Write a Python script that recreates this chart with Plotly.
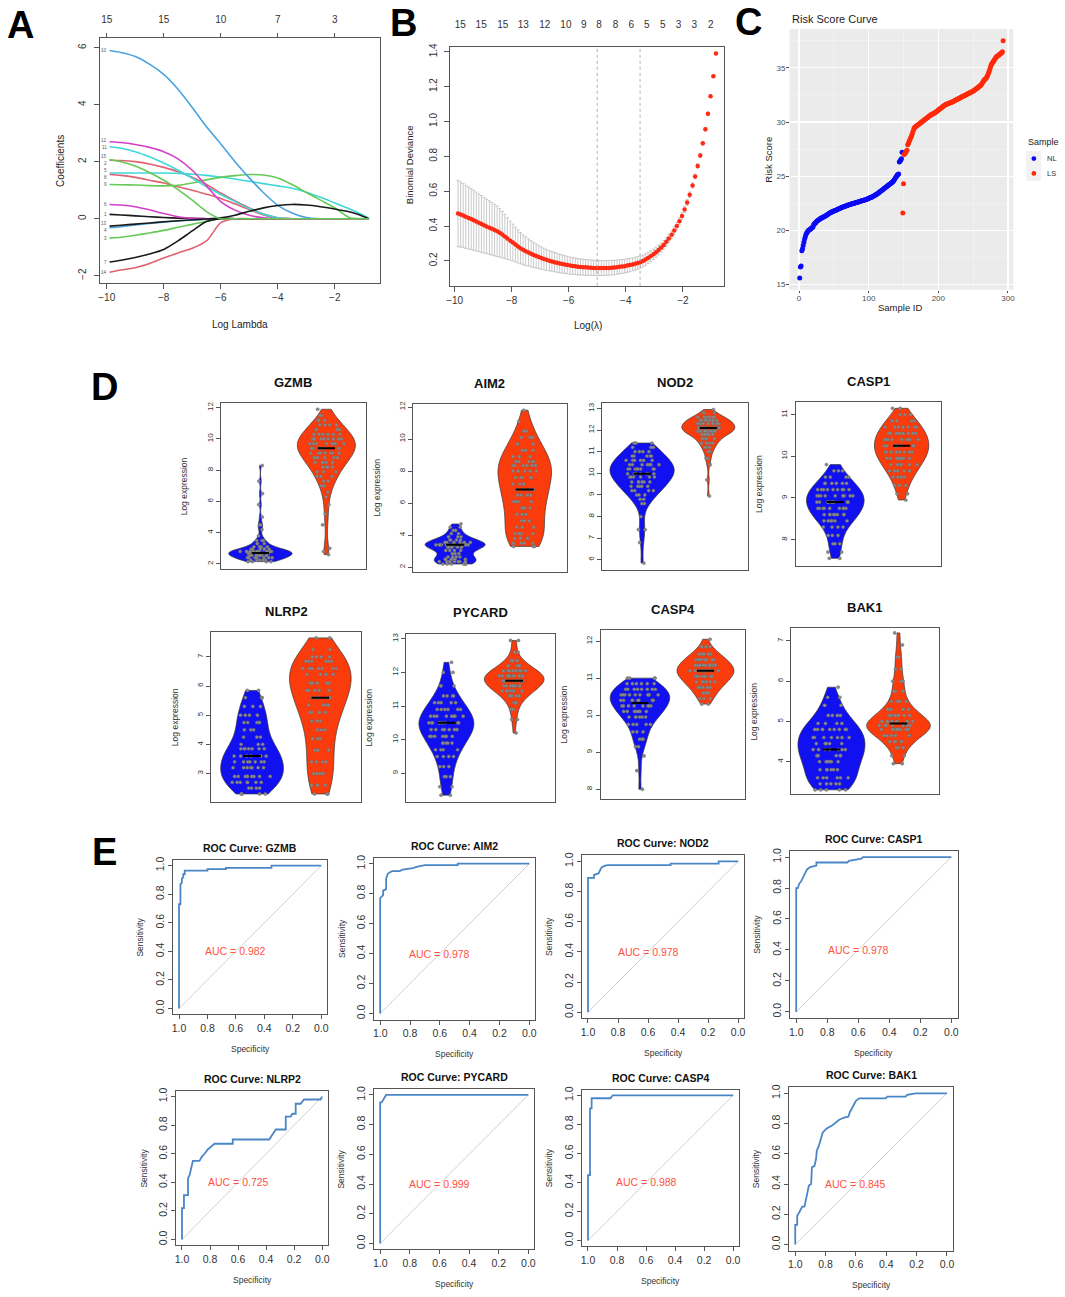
import numpy as np
import plotly.graph_objects as go

W, H = 1065, 1297
FONT = "Liberation Sans, Arial, Helvetica, sans-serif"

# ============================ DATA ============================
# ---- Panel A: LASSO coefficient paths ----
A_LOG_LAMBDA = [-9.9, -9.5, -9.0, -8.5, -8.0, -7.5, -7.0, -6.5, -6.0, -5.5,
                -5.0, -4.5, -4.0, -3.5, -3.0, -2.5, -2.0, -1.5, -1.0, -0.8]
A_V1 = [0.15, 0.13, 0.10, 0.07, 0.04, 0.02, 0.01, 0, 0, 0, 0, 0, 0, 0, 0, 0, 0, 0, 0, 0]
A_V2 = [2.05, 2.04, 2.00, 1.92, 1.80, 1.65, 1.45, 1.20, 0.90, 0.62, 0.38, 0.16, 0.03, 0, 0, 0, 0, 0, 0, 0]
A_V3 = [-0.68, -0.65, -0.58, -0.50, -0.41, -0.30, -0.20, -0.09, 0, 0, 0, 0, 0, 0, 0, 0, 0, 0, 0, 0]
A_V4 = [-0.32, -0.28, -0.22, -0.17, -0.12, -0.08, -0.05, -0.02, 0, 0, 0, 0, 0, 0, 0, 0, 0, 0, 0, 0]
A_V5 = [1.60, 1.60, 1.60, 1.60, 1.60, 1.59, 1.56, 1.52, 1.46, 1.39, 1.31, 1.23, 1.15, 1.07, 0.93, 0.75, 0.55, 0.35, 0.12, 0]
A_V6 = [0.50, 0.48, 0.42, 0.31, 0.18, 0.07, 0.01, 0, 0, 0, 0, 0, 0, 0, 0, 0, 0, 0, 0, 0]
A_V7 = [-1.52, -1.46, -1.36, -1.24, -1.08, -0.78, -0.43, -0.10, 0, 0, 0, 0, 0, 0, 0, 0, 0, 0, 0, 0]
A_V8 = [1.55, 1.52, 1.45, 1.35, 1.25, 1.12, 1.00, 0.86, 0.71, 0.52, 0.32, 0.13, 0.02, 0, 0, 0, 0, 0, 0, 0]
A_V9 = [1.20, 1.19, 1.18, 1.16, 1.15, 1.17, 1.25, 1.36, 1.45, 1.51, 1.55, 1.53, 1.43, 1.20, 0.92, 0.65, 0.38, 0.04, 0, 0]
A_V10 = [5.90, 5.83, 5.69, 5.42, 5.06, 4.54, 3.90, 3.22, 2.62, 2.00, 1.43, 0.91, 0.47, 0.20, 0.04, 0, 0, 0, 0, 0]
A_V11 = [2.52, 2.47, 2.35, 2.17, 1.95, 1.70, 1.42, 1.12, 0.85, 0.60, 0.35, 0.16, 0.03, 0, 0, 0, 0, 0, 0, 0]
A_V12 = [2.70, 2.67, 2.60, 2.50, 2.35, 2.10, 1.70, 1.15, 0.60, 0.30, 0.12, 0.03, 0, 0, 0, 0, 0, 0, 0, 0]
A_V13 = [-0.26, -0.23, -0.19, -0.15, -0.11, -0.07, -0.04, -0.01, 0.03, 0.12, 0.26, 0.38, 0.46, 0.50, 0.48, 0.42, 0.34, 0.24, 0.08, 0]
A_V14 = [-1.88, -1.80, -1.72, -1.57, -1.38, -1.20, -1.04, -0.78, -0.14, 0, 0, 0, 0, 0, 0, 0, 0, 0, 0, 0]
A_V15 = [2.07, 2.00, 1.85, 1.62, 1.35, 1.02, 0.65, 0.25, 0, 0, 0, 0, 0, 0, 0, 0, 0, 0, 0, 0]
A_TOP_TICKS = [-10, -8, -6, -4, -2]
A_TOP_LABELS = ["15", "15", "10", "7", "3"]

# ---- Panel B: cross-validated binomial deviance ----
B_LOG_LAMBDA = [-9.88, -9.79, -9.70, -9.61, -9.51, -9.42, -9.33, -9.24, -9.15, -9.06,
                -8.97, -8.88, -8.78, -8.69, -8.60, -8.51, -8.42, -8.33, -8.24, -8.15,
                -8.05, -7.96, -7.87, -7.78, -7.69, -7.60, -7.51, -7.41, -7.32, -7.23,
                -7.14, -7.05, -6.96, -6.87, -6.78, -6.68, -6.59, -6.50, -6.41, -6.32,
                -6.23, -6.14, -6.05, -5.95, -5.86, -5.77, -5.68, -5.59, -5.50, -5.41,
                -5.32, -5.22, -5.13, -5.04, -4.95, -4.86, -4.77, -4.68, -4.59, -4.49,
                -4.40, -4.31, -4.22, -4.13, -4.04, -3.95, -3.86, -3.76, -3.67, -3.58,
                -3.49, -3.40, -3.31, -3.22, -3.13, -3.03, -2.94, -2.85, -2.76, -2.67,
                -2.58, -2.49, -2.39, -2.30, -2.21, -2.12, -2.03, -1.94, -1.85, -1.76,
                -1.66, -1.57, -1.48, -1.39, -1.30, -1.21, -1.12, -1.03, -0.93, -0.84]
B_DEVIANCE = [0.472, 0.466, 0.460, 0.453, 0.446, 0.440, 0.433, 0.426, 0.419, 0.412,
              0.405, 0.398, 0.391, 0.384, 0.377, 0.370, 0.361, 0.351, 0.340, 0.328,
              0.316, 0.305, 0.294, 0.283, 0.273, 0.264, 0.256, 0.248, 0.241, 0.234,
              0.228, 0.222, 0.216, 0.211, 0.206, 0.201, 0.197, 0.193, 0.189, 0.185,
              0.182, 0.179, 0.176, 0.173, 0.171, 0.169, 0.167, 0.165, 0.164, 0.163,
              0.162, 0.161, 0.160, 0.160, 0.159, 0.159, 0.159, 0.160, 0.160, 0.161,
              0.162, 0.164, 0.166, 0.168, 0.170, 0.173, 0.176, 0.180, 0.184, 0.188,
              0.193, 0.200, 0.208, 0.217, 0.227, 0.238, 0.250, 0.263, 0.277, 0.292,
              0.310, 0.329, 0.350, 0.375, 0.400, 0.428, 0.458, 0.495, 0.535, 0.580,
              0.633, 0.685, 0.745, 0.805, 0.875, 0.955, 1.045, 1.145, 1.260, 1.390]
B_SE = [0.190, 0.187, 0.184, 0.181, 0.178, 0.175, 0.172, 0.169, 0.166, 0.163,
        0.160, 0.157, 0.154, 0.151, 0.148, 0.145, 0.139, 0.133, 0.126, 0.119,
        0.112, 0.106, 0.100, 0.095, 0.090, 0.086, 0.082, 0.078, 0.075, 0.072,
        0.069, 0.066, 0.064, 0.062, 0.060, 0.058, 0.056, 0.055, 0.054, 0.053,
        0.052, 0.051, 0.050, 0.049, 0.048, 0.047, 0.047, 0.046, 0.046, 0.045,
        0.045, 0.044, 0.044, 0.044, 0.043, 0.043, 0.043, 0.042, 0.042, 0.042,
        0.041, 0.041, 0.040, 0.040, 0.039, 0.039, 0.038, 0.037, 0.037, 0.036,
        0.035, 0.034, 0.033, 0.032, 0.031, 0.030, 0.029, 0.028, 0.027, 0.026,
        0.025, 0.024, 0.023, 0.022, 0.021, 0.020, 0.019, 0.018, 0.017, 0.016,
        0.015, 0.014, 0.013, 0.012, 0.011, 0.010, 0.009, 0.008, 0.007, 0.006]
B_TOP_POS = [-9.80, -9.07, -8.31, -7.59, -6.84, -6.10, -5.47, -4.94, -4.36, -3.81,
             -3.26, -2.70, -2.15, -1.60, -1.02]
B_TOP_LABELS = ["15", "15", "15", "13", "12", "10", "9", "8", "8", "6", "5", "5", "3", "3", "2"]
B_LOG_LAMBDA_MIN = -5.0
B_LOG_LAMBDA_1SE = -3.5

# ---- Panel C: risk score curve ----
C_NL_SCORE = [15.6, 16.6, 16.7, 18.1, 18.3, 18.6, 18.9, 19.2, 19.4, 19.6,
              19.75, 19.85, 19.95, 20.0, 20.05, 20.1, 20.15, 20.2, 20.25, 20.3,
              20.5, 20.6, 20.65, 20.7, 20.8, 20.85, 20.9, 20.95, 21.0, 21.05,
              21.1, 21.12, 21.15, 21.2, 21.22, 21.25, 21.3, 21.33, 21.36, 21.4,
              21.45, 21.5, 21.55, 21.6, 21.62, 21.65, 21.7, 21.72, 21.75, 21.78,
              21.8, 21.83, 21.86, 21.9, 21.92, 21.95, 21.98, 22.0, 22.03, 22.06,
              22.1, 22.12, 22.15, 22.18, 22.2, 22.22, 22.25, 22.27, 22.3, 22.32,
              22.34, 22.36, 22.38, 22.4, 22.42, 22.44, 22.46, 22.48, 22.5, 22.52,
              22.54, 22.56, 22.58, 22.6, 22.62, 22.64, 22.66, 22.68, 22.7, 22.72,
              22.74, 22.76, 22.78, 22.8, 22.82, 22.85, 22.87, 22.9, 22.92, 22.95,
              22.98, 23.0, 23.03, 23.06, 23.1, 23.13, 23.16, 23.2, 23.24, 23.28,
              23.32, 23.36, 23.4, 23.45, 23.5, 23.55, 23.6, 23.65, 23.7, 23.75,
              23.8, 23.85, 23.9, 23.95, 24.0, 24.05, 24.1, 24.15, 24.2, 24.25,
              24.3, 24.35, 24.4, 24.45, 24.5, 24.6, 24.7, 24.8, 24.9, 25.0,
              25.1, 25.15, 25.2, 26.3, 26.4, 26.5, 26.6, 27.2]
C_LS_SCORE = [21.6, 24.3, 27.0, 27.1, 27.2, 27.3, 27.4, 27.9, 28.0, 28.2,
              28.35, 28.5, 28.65, 28.8, 29.0, 29.2, 29.4, 29.5, 29.55, 29.6,
              29.65, 29.7, 29.75, 29.8, 29.85, 29.9, 29.95, 30.0, 30.05, 30.1,
              30.15, 30.2, 30.25, 30.3, 30.35, 30.4, 30.45, 30.5, 30.55, 30.6,
              30.65, 30.7, 30.72, 30.75, 30.78, 30.8, 30.85, 30.9, 30.95, 31.0,
              31.05, 31.1, 31.15, 31.2, 31.25, 31.3, 31.35, 31.4, 31.45, 31.5,
              31.55, 31.6, 31.62, 31.65, 31.68, 31.7, 31.72, 31.75, 31.78, 31.8,
              31.83, 31.86, 31.9, 31.93, 31.96, 32.0, 32.03, 32.06, 32.1, 32.13,
              32.16, 32.2, 32.23, 32.26, 32.3, 32.33, 32.36, 32.4, 32.43, 32.46,
              32.5, 32.53, 32.56, 32.6, 32.63, 32.66, 32.7, 32.73, 32.76, 32.8,
              32.83, 32.86, 32.9, 32.95, 33.0, 33.05, 33.1, 33.15, 33.2, 33.25,
              33.3, 33.35, 33.4, 33.5, 33.6, 33.7, 33.8, 33.9, 33.95, 34.0,
              34.1, 34.2, 34.35, 34.5, 34.7, 34.9, 35.1, 35.3, 35.4, 35.5,
              35.6, 35.7, 35.8, 35.9, 36.0, 36.05, 36.1, 36.15, 36.2, 36.25,
              36.3, 36.35, 36.4, 36.5, 37.5]
C_GROUPS = ["NL", "LS"]

# ---- Panel D: log expression (beeswarm levels and counts) ----
GENES = ["GZMB", "AIM2", "NOD2", "CASP1", "NLRP2", "PYCARD", "CASP4", "BAK1"]
GZMB_NL_LV = [2.15, 2.25, 2.4, 2.55, 2.7, 2.8, 2.95, 3.1, 3.3, 3.5, 3.8, 4.2, 4.5, 5.0, 5.8, 6.5, 7.3, 8.3]
GZMB_NL_CT = [4, 6, 9, 10, 9, 12, 6, 4, 3, 3, 1, 1, 2, 1, 1, 1, 1, 1]
GZMB_LS_LV = [11.9, 11.5, 11.2, 10.9, 10.6, 10.3, 10.0, 9.7, 9.4, 9.1, 8.8, 8.5, 8.2, 7.9, 7.6, 7.3, 7.0, 6.6, 6.3, 5.8, 5.2, 4.5, 3.0, 2.8, 2.6]
GZMB_LS_CT = [1, 2, 3, 4, 5, 6, 8, 8, 8, 7, 6, 5, 4, 3, 3, 2, 2, 1, 1, 1, 1, 1, 1, 1, 1]
AIM2_NL_LV = [4.7, 4.5, 4.3, 4.1, 3.9, 3.7, 3.55, 3.4, 3.25, 3.05, 2.85, 2.65, 2.5, 2.35, 2.2]
AIM2_NL_CT = [1, 2, 2, 2, 3, 4, 6, 17, 5, 4, 3, 4, 6, 8, 6]
AIM2_LS_LV = [11.8, 11.1, 10.5, 10.1, 9.7, 9.3, 8.9, 8.6, 8.35, 8.0, 7.6, 7.2, 6.85, 6.5, 6.1, 5.7, 5.3, 4.9, 4.5, 4.1, 3.8, 3.5, 3.3]
AIM2_LS_CT = [1, 1, 2, 3, 3, 3, 3, 5, 6, 5, 5, 3, 5, 4, 4, 4, 3, 3, 3, 4, 4, 4, 3]
NOD2_NL_LV = [11.4, 11.2, 11.0, 10.8, 10.6, 10.4, 10.2, 9.98, 9.83, 9.6, 9.4, 9.2, 9.0, 8.8, 8.6, 8.0, 7.4, 6.8, 5.85]
NOD2_NL_CT = [3, 3, 4, 5, 6, 7, 8, 7, 6, 6, 5, 4, 3, 2, 2, 1, 2, 1, 1]
NOD2_LS_LV = [12.95, 12.8, 12.6, 12.45, 12.3, 12.1, 11.95, 11.8, 11.6, 11.4, 11.2, 11.0, 10.7, 10.4, 9.7, 8.95]
NOD2_LS_CT = [1, 3, 6, 8, 10, 12, 9, 7, 5, 4, 3, 2, 2, 1, 1, 1]
CASP1_NL_LV = [9.8, 9.65, 9.5, 9.35, 9.2, 9.05, 8.9, 8.75, 8.6, 8.45, 8.3, 8.1, 7.9, 7.7, 7.55]
CASP1_NL_CT = [1, 3, 4, 6, 9, 10, 10, 9, 8, 6, 4, 3, 3, 2, 2]
CASP1_LS_LV = [11.15, 11.0, 10.85, 10.7, 10.55, 10.4, 10.25, 10.1, 9.95, 9.8, 9.65, 9.5, 9.3, 9.1, 8.95]
CASP1_LS_CT = [2, 3, 5, 7, 8, 9, 9, 9, 8, 6, 5, 4, 3, 2, 1]
NLRP2_NL_LV = [5.85, 5.6, 5.3, 5.0, 4.75, 4.5, 4.25, 4.0, 3.85, 3.6, 3.4, 3.2, 2.9, 2.7, 2.5, 2.3]
NLRP2_NL_CT = [2, 3, 3, 4, 5, 3, 3, 3, 7, 6, 7, 7, 9, 7, 4, 4]
NLRP2_LS_LV = [7.65, 7.25, 7.0, 6.85, 6.6, 6.4, 6.1, 5.85, 5.6, 5.35, 5.1, 4.8, 4.5, 4.2, 3.8, 3.4, 3.0, 2.6, 2.3]
NLRP2_LS_CT = [2, 2, 4, 6, 7, 5, 6, 5, 5, 4, 4, 3, 3, 3, 3, 4, 4, 3, 3]
PYCARD_NL_LV = [12.3, 12.0, 11.6, 11.3, 11.1, 10.9, 10.7, 10.5, 10.3, 10.1, 9.9, 9.7, 9.5, 9.2, 8.9, 8.6, 8.35]
PYCARD_NL_CT = [1, 2, 3, 4, 5, 6, 8, 10, 8, 7, 5, 4, 4, 3, 3, 2, 2]
PYCARD_LS_LV = [12.95, 12.6, 12.35, 12.2, 12.05, 11.9, 11.75, 11.6, 11.45, 11.3, 11.1, 10.9, 10.6, 10.2]
PYCARD_LS_CT = [2, 2, 3, 5, 8, 12, 12, 9, 7, 5, 3, 2, 2, 1]
CASP4_NL_LV = [11.0, 10.85, 10.7, 10.55, 10.4, 10.25, 10.1, 9.95, 9.75, 9.55, 9.35, 9.15, 8.9, 8.5, 8.0]
CASP4_NL_CT = [4, 6, 8, 10, 9, 8, 7, 6, 5, 3, 3, 2, 1, 1, 1]
CASP4_LS_LV = [12.05, 11.85, 11.65, 11.5, 11.35, 11.2, 11.05, 10.9, 10.75, 10.6, 10.45, 10.3]
CASP4_LS_CT = [1, 3, 6, 8, 10, 12, 10, 8, 6, 4, 3, 2]
BAK1_NL_LV = [5.85, 5.6, 5.4, 5.15, 4.95, 4.8, 4.6, 4.45, 4.3, 4.15, 4.0, 3.8, 3.6, 3.45, 3.3]
BAK1_NL_CT = [1, 2, 3, 4, 4, 9, 7, 6, 7, 6, 6, 6, 6, 5, 5]
BAK1_LS_LV = [7.2, 6.9, 6.6, 6.3, 6.0, 5.75, 5.5, 5.3, 5.15, 5.0, 4.9, 4.8, 4.65, 4.5, 4.35, 4.15, 3.95]
BAK1_LS_CT = [1, 1, 2, 2, 3, 3, 4, 5, 7, 8, 8, 10, 6, 5, 3, 2, 2]

# ---- Panel E: ROC curves (specificity, sensitivity) ----
GZMB_SPEC = [1, 1, 0.99, 0.99, 0.98, 0.98, 0.97, 0.97, 0.96, 0.96, 0.80, 0.80, 0.67, 0.67, 0.35, 0.35, 0]
GZMB_SENS = [0, 0.73, 0.73, 0.87, 0.88, 0.91, 0.92, 0.94, 0.94, 0.965, 0.965, 0.975, 0.975, 0.985, 0.985, 1.0, 1.0]
AIM2_SPEC = [1, 1, 0.99, 0.98, 0.98, 0.96, 0.96, 0.95, 0.94, 0.92, 0.87, 0.85, 0.78, 0.75, 0.70, 0.48, 0.48, 0]
AIM2_SENS = [0, 0.77, 0.78, 0.79, 0.82, 0.83, 0.90, 0.93, 0.94, 0.95, 0.95, 0.96, 0.97, 0.98, 0.99, 0.99, 1.0, 1.0]
NOD2_SPEC = [1, 1, 0.96, 0.96, 0.93, 0.92, 0.91, 0.89, 0.87, 0.45, 0.45, 0.13, 0.13, 0]
NOD2_SENS = [0, 0.89, 0.89, 0.91, 0.92, 0.94, 0.96, 0.97, 0.975, 0.975, 0.985, 0.985, 1.0, 1.0]
CASP1_SPEC = [1, 1, 0.99, 0.98, 0.97, 0.96, 0.95, 0.94, 0.93, 0.91, 0.89, 0.87, 0.87, 0.67, 0.66, 0.62, 0.58, 0.57, 0]
CASP1_SENS = [0, 0.80, 0.80, 0.83, 0.84, 0.86, 0.89, 0.91, 0.92, 0.935, 0.94, 0.945, 0.965, 0.965, 0.975, 0.985, 0.99, 1.0, 1.0]
NLRP2_SPEC = [1, 1, 0.986, 0.986, 0.957, 0.957, 0.946, 0.934, 0.922, 0.875, 0.858, 0.839, 0.816, 0.792, 0.768,
              0.638, 0.638, 0.378, 0.366, 0.343, 0.331, 0.26, 0.26, 0.225, 0.213, 0.189, 0.189, 0.154, 0.13, 0.012, 0]
NLRP2_SENS = [0, 0.22, 0.22, 0.31, 0.31, 0.43, 0.45, 0.51, 0.55, 0.55, 0.58, 0.60, 0.63, 0.65, 0.67,
              0.67, 0.70, 0.70, 0.72, 0.75, 0.77, 0.77, 0.86, 0.86, 0.88, 0.88, 0.95, 0.95, 0.98, 0.98, 1.0]
PYCARD_SPEC = [1, 1, 0.99, 0.98, 0.97, 0.96, 0]
PYCARD_SENS = [0, 0.95, 0.95, 0.97, 0.99, 1.0, 1.0]
CASP4_SPEC = [1, 1, 0.986, 0.986, 0.975, 0.975, 0.845, 0.83, 0]
CASP4_SENS = [0, 0.45, 0.45, 0.91, 0.91, 0.98, 0.98, 1.0, 1.0]
BAK1_SPEC = [1, 1, 0.987, 0.987, 0.972, 0.954, 0.939, 0.932, 0.921, 0.91, 0.895, 0.89, 0.873, 0.862, 0.858,
             0.845, 0.819, 0.797, 0.753, 0.71, 0.677, 0.65, 0.64, 0.622, 0.60, 0.579, 0.404, 0.393, 0.273,
             0.262, 0.229, 0.207, 0]
BAK1_SENS = [0, 0.13, 0.13, 0.19, 0.215, 0.25, 0.25, 0.28, 0.33, 0.39, 0.40, 0.51, 0.52, 0.57, 0.62,
             0.65, 0.74, 0.765, 0.79, 0.825, 0.84, 0.845, 0.875, 0.91, 0.95, 0.967, 0.967, 0.978, 0.978,
             0.99, 0.995, 1.0, 1.0]
AUC_TEXT = ["0.982", "0.978", "0.978", "0.978", "0.725", "0.999", "0.988", "0.845"]

# ============================ STYLE / LAYOUT ============================
FRAME = "#555555"
TICKC = "#333333"
R_BLACK, R_RED, R_GREEN = "#1a1a1a", "#e0616f", "#67c957"
R_BLUE, R_CYAN, R_MAG = "#4aa3df", "#40d7d9", "#d33fc6"
VIO_BLUE, VIO_RED = "#1010f0", "#fa3b0c"
PT_BLUE, PT_RED = "#0a0af5", "#ff2a0a"
ROC_COL, AUC_COL = "#4a86c6", "#ff5242"

fig = go.Figure()
AX = {}
ANN = []
SHAPES = []


def dom(box):
    l, t, r, b = box
    return [l / W, r / W], [1 - b / H, 1 - t / H]


def make_axes(i, box, xr, yr, xkw=None, ykw=None):
    s = "" if i == 1 else str(i)
    xd, yd = dom(box)
    base = dict(showgrid=False, zeroline=False, showline=True, mirror=True,
                linecolor=FRAME, linewidth=1, ticks="outside", ticklen=4,
                tickwidth=1, tickcolor=FRAME, fixedrange=True,
                tickfont=dict(size=9, color=TICKC, family=FONT))
    xa = dict(base, domain=xd, range=xr, anchor="y" + s, type="linear")
    ya = dict(base, domain=yd, range=yr, anchor="x" + s, type="linear", tickangle=-90)
    if xkw:
        xa.update(xkw)
    if ykw:
        ya.update(ykw)
    AX["xaxis" + s] = xa
    AX["yaxis" + s] = ya
    return "x" + s, "y" + s


def txt(x, y, s, size=9, bold=False, angle=0, color="#222222", xanchor="center", yanchor="middle"):
    ANN.append(dict(x=x / W, y=1 - y / H, xref="paper", yref="paper",
                    text=("<b>%s</b>" % s) if bold else s, showarrow=False,
                    font=dict(size=size, color=color, family=FONT), textangle=angle,
                    xanchor=xanchor, yanchor=yanchor))


# ---------------- Panel A ----------------
A_BOX = (96.7, 34, 377.7, 280)
A_XR = [-10.23, -0.43]
xa, ya = make_axes(1, A_BOX, A_XR, [-2.26, 6.34],
                   dict(tickvals=[-10, -8, -6, -4, -2], ticklen=5, tickfont=dict(size=10, color=TICKC, family=FONT)),
                   dict(tickvals=[-2, 0, 2, 4, 6], ticklen=5, ticklabelstandoff=4,
                        tickfont=dict(size=10, color=TICKC, family=FONT)))
AX["xaxis20"] = dict(overlaying="x", anchor="y", side="top", range=A_XR, type="linear",
                     tickvals=A_TOP_TICKS, ticktext=A_TOP_LABELS, ticks="outside", ticklen=4,
                     tickcolor=FRAME, showline=False, showgrid=False, zeroline=False, fixedrange=True,
                     ticklabelstandoff=6, tickfont=dict(size=10, color=TICKC, family=FONT))
# carrier trace so the top (count) axis is drawn
fig.add_trace(go.Scatter(x=A_TOP_TICKS, y=[None] * len(A_TOP_TICKS), xaxis="x20", yaxis="y",
                         mode="markers", showlegend=False, hoverinfo="skip"))
A_LINES = [(A_V1, R_BLACK, "1", 0), (A_V2, R_RED, "2", -3), (A_V3, R_GREEN, "3", 0), (A_V4, R_BLUE, "4", -3),
           (A_V5, R_CYAN, "5", 3), (A_V6, R_MAG, "6", 0), (A_V7, R_BLACK, "7", 0), (A_V8, R_RED, "8", -3),
           (A_V9, R_GREEN, "9", 0), (A_V10, R_BLUE, "10", 0), (A_V11, R_CYAN, "11", -1), (A_V12, R_MAG, "12", 1),
           (A_V13, R_BLACK, "13", 3), (A_V14, R_RED, "14", 0), (A_V15, R_GREEN, "15", 3)]
for vals, col, lab, ysh in A_LINES:
    fig.add_trace(go.Scatter(x=A_LOG_LAMBDA, y=vals, mode="lines", xaxis=xa, yaxis=ya,
                             line=dict(color=col, width=1.6, shape="spline", smoothing=0.7),
                             showlegend=False, hoverinfo="skip"))
    ANN.append(dict(x=A_LOG_LAMBDA[0], y=vals[0], xref=xa, yref=ya, text=lab, showarrow=False,
                    font=dict(size=4.5, color="#555555", family=FONT), xanchor="right",
                    xshift=-1, yshift=ysh))
txt(237, 321.5, "Log Lambda", size=10)
txt(56.7, 157, "Coefficients", size=10, angle=-90)

# ---------------- Panel B ----------------
B_BOX = (448.3, 42.7, 724.3, 282.7)
B_XR = [-10.17, -0.55]
xb, yb = make_axes(2, B_BOX, B_XR, [0.057, 1.43],
                   dict(tickvals=[-10, -8, -6, -4, -2], ticklen=5, tickfont=dict(size=10, color=TICKC, family=FONT)),
                   dict(tickvals=[0.2, 0.4, 0.6, 0.8, 1.0, 1.2, 1.4], tickformat=".1f", ticklen=5,
                        ticklabelstandoff=3, tickfont=dict(size=10, color=TICKC, family=FONT)))
AX["xaxis21"] = dict(overlaying="x2", anchor="y2", side="top", range=B_XR, type="linear",
                     tickvals=B_TOP_POS, ticktext=B_TOP_LABELS, ticks="", showline=False,
                     showgrid=False, zeroline=False, fixedrange=True, ticklabelstandoff=16,
                     tickfont=dict(size=10, color=TICKC, family=FONT))
fig.add_trace(go.Scatter(x=B_TOP_POS, y=[None] * len(B_TOP_POS), xaxis="x21", yaxis="y2",
                         mode="markers", showlegend=False, hoverinfo="skip"))
for v in (B_LOG_LAMBDA_MIN, B_LOG_LAMBDA_1SE):
    SHAPES.append(dict(type="line", xref=xb, yref="y2 domain", x0=v, x1=v, y0=0, y1=1,
                       line=dict(color="#a0a0a0", width=0.8, dash="dot")))
fig.add_trace(go.Scatter(x=B_LOG_LAMBDA, y=B_DEVIANCE, mode="markers", xaxis=xb, yaxis=yb,
                         marker=dict(color="#ff2a14", size=4.5, line=dict(width=0)),
                         error_y=dict(type="data", array=B_SE, color="#bdbdbd", thickness=0.8, width=1.5),
                         showlegend=False, hoverinfo="skip"))
txt(587.3, 322.5, "Log(λ)", size=10)
txt(407.3, 161.7, "Binomial Deviance", size=9.5, angle=-90)

# ---------------- Panel C ----------------
C_BOX = (790, 25, 1015, 286.7)
cfont = dict(size=8, color="#4d4d4d", family=FONT)
xc, yc = make_axes(3, C_BOX, [-13.6, 307.6], [14.5, 38.6],
                   dict(showline=False, mirror=False, dtick=100, tick0=0, ticklen=2.5, tickcolor="#4d4d4d",
                        showgrid=True, gridcolor="white", gridwidth=1.1, tickfont=cfont, ticklabelstandoff=-2,
                        minor=dict(dtick=50, tick0=0, showgrid=True, gridcolor="#f7f7f7", gridwidth=0.5)),
                   dict(showline=False, mirror=False, dtick=5, tick0=0, ticklen=2.5, tickcolor="#4d4d4d",
                        tickangle=0, showgrid=True, gridcolor="white", gridwidth=1.1, tickfont=cfont,
                        ticklabelstandoff=-1,
                        minor=dict(dtick=2.5, tick0=0, showgrid=True, gridcolor="#f7f7f7", gridwidth=0.5)))
SHAPES.append(dict(type="rect", xref="x3 domain", yref="y3 domain", x0=0, x1=1, y0=0, y1=1,
                   fillcolor="#ebebeb", line=dict(width=0), layer="below"))
nl_ids = list(range(1, len(C_NL_SCORE) + 1))
ls_ids = list(range(len(C_NL_SCORE) + 1, len(C_NL_SCORE) + len(C_LS_SCORE) + 1))
fig.add_trace(go.Scatter(x=nl_ids, y=C_NL_SCORE, mode="markers", name=C_GROUPS[0], xaxis=xc, yaxis=yc,
                         marker=dict(color=PT_BLUE, size=5), hoverinfo="skip", showlegend=False))
fig.add_trace(go.Scatter(x=ls_ids, y=C_LS_SCORE, mode="markers", name=C_GROUPS[1], xaxis=xc, yaxis=yc,
                         marker=dict(color=PT_RED, size=5), hoverinfo="skip", showlegend=False))
txt(790, 15, "Risk Score Curve", size=11, color="#222222", xanchor="left")
txt(901, 304, "Sample ID", size=9.5)
txt(768.5, 156, "Risk Score", size=9.5, angle=-90)
# ggplot-style legend (key boxes, dots, labels)
txt(1028, 138.5, "Sample", size=9, color="#222222", xanchor="left")
for j, (lab, col) in enumerate(zip(C_GROUPS, [PT_BLUE, PT_RED])):
    cy = 155 + 15 * j
    SHAPES.append(dict(type="rect", xref="paper", yref="paper", x0=1028 / W, x1=1043 / W,
                       y0=1 - (cy + 7.5) / H, y1=1 - (cy - 7.5) / H, fillcolor="#f2f2f2", line=dict(width=0)))
    SHAPES.append(dict(type="circle", xref="paper", yref="paper", x0=(1035.7 - 2.4) / W, x1=(1035.7 + 2.4) / W,
                       y0=1 - (cy + 2.4) / H, y1=1 - (cy - 2.4) / H, fillcolor=col, line=dict(width=0)))
    txt(1047, cy, lab, size=7.5, color="#333333", xanchor="left")

# ---------------- Panel D ----------------
D_BOXES = [(218, 400.7, 364, 567), (411.7, 401.7, 565.7, 569.3), (601.7, 400.7, 748.3, 567.3),
           (796, 399.3, 942.7, 564), (208.3, 630, 359.3, 800), (404, 631.7, 554, 800),
           (600, 628.3, 745, 797.3), (791.7, 626, 940, 792.7)]
D_YRANGES = [[1.66, 12.27], [1.73, 12.16], [5.55, 13.23], [7.36, 11.3],
             [2.04, 7.85], [8.16, 13.15], [7.74, 12.29], [3.19, 7.32]]
D_YTICKS = [[2, 4, 6, 8, 10, 12], [2, 4, 6, 8, 10, 12], [6, 7, 8, 9, 10, 11, 12, 13], [8, 9, 10, 11],
            [3, 4, 5, 6, 7], [9, 10, 11, 12, 13], [8, 9, 10, 11, 12], [4, 5, 6, 7]]
D_DATA = [(GZMB_NL_LV, GZMB_NL_CT, GZMB_LS_LV, GZMB_LS_CT),
          (AIM2_NL_LV, AIM2_NL_CT, AIM2_LS_LV, AIM2_LS_CT),
          (NOD2_NL_LV, NOD2_NL_CT, NOD2_LS_LV, NOD2_LS_CT),
          (CASP1_NL_LV, CASP1_NL_CT, CASP1_LS_LV, CASP1_LS_CT),
          (NLRP2_NL_LV, NLRP2_NL_CT, NLRP2_LS_LV, NLRP2_LS_CT),
          (PYCARD_NL_LV, PYCARD_NL_CT, PYCARD_LS_LV, PYCARD_LS_CT),
          (CASP4_NL_LV, CASP4_NL_CT, CASP4_LS_LV, CASP4_LS_CT),
          (BAK1_NL_LV, BAK1_NL_CT, BAK1_LS_LV, BAK1_LS_CT)]
D_WIDTHS = [(0.96, 0.88), (0.86, 0.77), (0.97, 0.80), (0.87, 0.82),
            (0.92, 0.90), (0.81, 0.88), (0.91, 0.87), (1.0, 0.95)]
dfont = dict(size=8, color=TICKC, family=FONT)
for k, gene in enumerate(GENES):
    box = D_BOXES[k]
    xd_, yd_ = make_axes(4 + k, box, [0.4, 2.6], D_YRANGES[k],
                         dict(showticklabels=False, ticks=""),
                         dict(tickvals=D_YTICKS[k], tickfont=dfont, ticklen=4))
    nl_lv, nl_ct, ls_lv, ls_ct = D_DATA[k]
    groups = [(1, np.repeat(nl_lv, nl_ct), VIO_BLUE, D_WIDTHS[k][0]),
              (2, np.repeat(ls_lv, ls_ct), VIO_RED, D_WIDTHS[k][1])]
    for pos, vals, col, wd in groups:
        fig.add_trace(go.Violin(y=vals, x0=pos, xaxis=xd_, yaxis=yd_, width=wd, fillcolor=col,
                                line=dict(color="#3a3a3a", width=0.7), opacity=1,
                                points="all", pointpos=0, jitter=0.65, spanmode="hard",
                                scalemode="width", marker=dict(size=3.2, color="#8a8a8a",
                                                               line=dict(width=0.4, color="#666666")),
                                showlegend=False, hoverinfo="skip", name=gene))
        med = float(np.median(vals))
        fig.add_trace(go.Scatter(x=[pos - 0.13, pos + 0.13], y=[med, med], mode="lines",
                                 xaxis=xd_, yaxis=yd_, line=dict(color="black", width=2),
                                 showlegend=False, hoverinfo="skip"))
    l, t, r, b = box
    txt((l + r) / 2, t - 21, gene, size=13, bold=True, color="#111111")
    if gene != "NOD2":
        txt(l - 37, (t + b) / 2, "Log expression", size=8.5, angle=-90, color="#333333")

# ---------------- Panel E ----------------
E_TICKPX = [(176, 319, 864.3, 1007.7), (378.3, 528.3, 862.3, 1012.7), (587.3, 738.3, 860, 1011.3),
            (796.7, 952.7, 855.7, 1011), (179, 320, 1096, 1239.3), (378.3, 527.3, 1094.3, 1243.3),
            (587.3, 733.3, 1094.7, 1240.3), (795.7, 948.3, 1092.7, 1244.3)]
E_CURVES = [(GZMB_SPEC, GZMB_SENS), (AIM2_SPEC, AIM2_SENS), (NOD2_SPEC, NOD2_SENS),
            (CASP1_SPEC, CASP1_SENS), (NLRP2_SPEC, NLRP2_SENS), (PYCARD_SPEC, PYCARD_SENS),
            (CASP4_SPEC, CASP4_SENS), (BAK1_SPEC, BAK1_SENS)]
efont = dict(size=10.5, color=TICKC, family=FONT)
for k, gene in enumerate(GENES):
    x1p, x0p, y1p, y0p = E_TICKPX[k]
    dx, dy = 0.04 * (x0p - x1p), 0.04 * (y0p - y1p)
    box = (x1p - dx, y1p - dy, x0p + dx, y0p + dy)
    xe, ye = make_axes(12 + k, box, [1.04, -0.04], [-0.04, 1.04],
                       dict(tickvals=[1.0, 0.8, 0.6, 0.4, 0.2, 0.0], tickformat=".1f", tickfont=efont, ticklen=4),
                       dict(tickvals=[0.0, 0.2, 0.4, 0.6, 0.8, 1.0], tickformat=".1f", tickfont=efont, ticklen=4))
    fig.add_trace(go.Scatter(x=[1, 0], y=[0, 1], mode="lines", xaxis=xe, yaxis=ye,
                             line=dict(color="#cfcfcf", width=1), showlegend=False, hoverinfo="skip"))
    spec, sens = E_CURVES[k]
    fig.add_trace(go.Scatter(x=spec, y=sens, mode="lines", xaxis=xe, yaxis=ye,
                             line=dict(color=ROC_COL, width=1.8), showlegend=False, hoverinfo="skip"))
    ANN.append(dict(x=0.6, y=0.4, xref=xe, yref=ye, text="AUC = " + AUC_TEXT[k], showarrow=False,
                    font=dict(size=10.5, color=AUC_COL, family=FONT)))
    l, t, r, b = box
    txt((l + r) / 2, t - 12, "ROC Curve: " + gene, size=10.5, bold=True, color="#111111")
    txt(l - 33, (t + b) / 2, "Sensitivity", size=8.5, angle=-90, color="#333333")
    txt((l + r) / 2, b + 35, "Specificity", size=8.5, color="#333333")

# ---------------- panel letters ----------------
for lx, ly, L in [(17, 21, "A"), (402, 19, "B"), (749, 18, "C"), (101, 384, "D"), (101, 851, "E")]:
    txt(lx, ly, L, size=38, bold=True, color="#000000")

fig.update_layout(width=W, height=H, margin=dict(l=0, r=0, t=0, b=0, pad=0),
                  paper_bgcolor="white", plot_bgcolor="white",
                  font=dict(family=FONT, size=9, color="#222222"),
                  showlegend=False, violingap=0, violingroupgap=0,
                  annotations=ANN, shapes=SHAPES, **AX)
fig.write_html("out.html", config={"displayModeBar": False, "staticPlot": True},
               post_script="document.body.style.margin='0px';document.body.style.overflow='hidden';")
